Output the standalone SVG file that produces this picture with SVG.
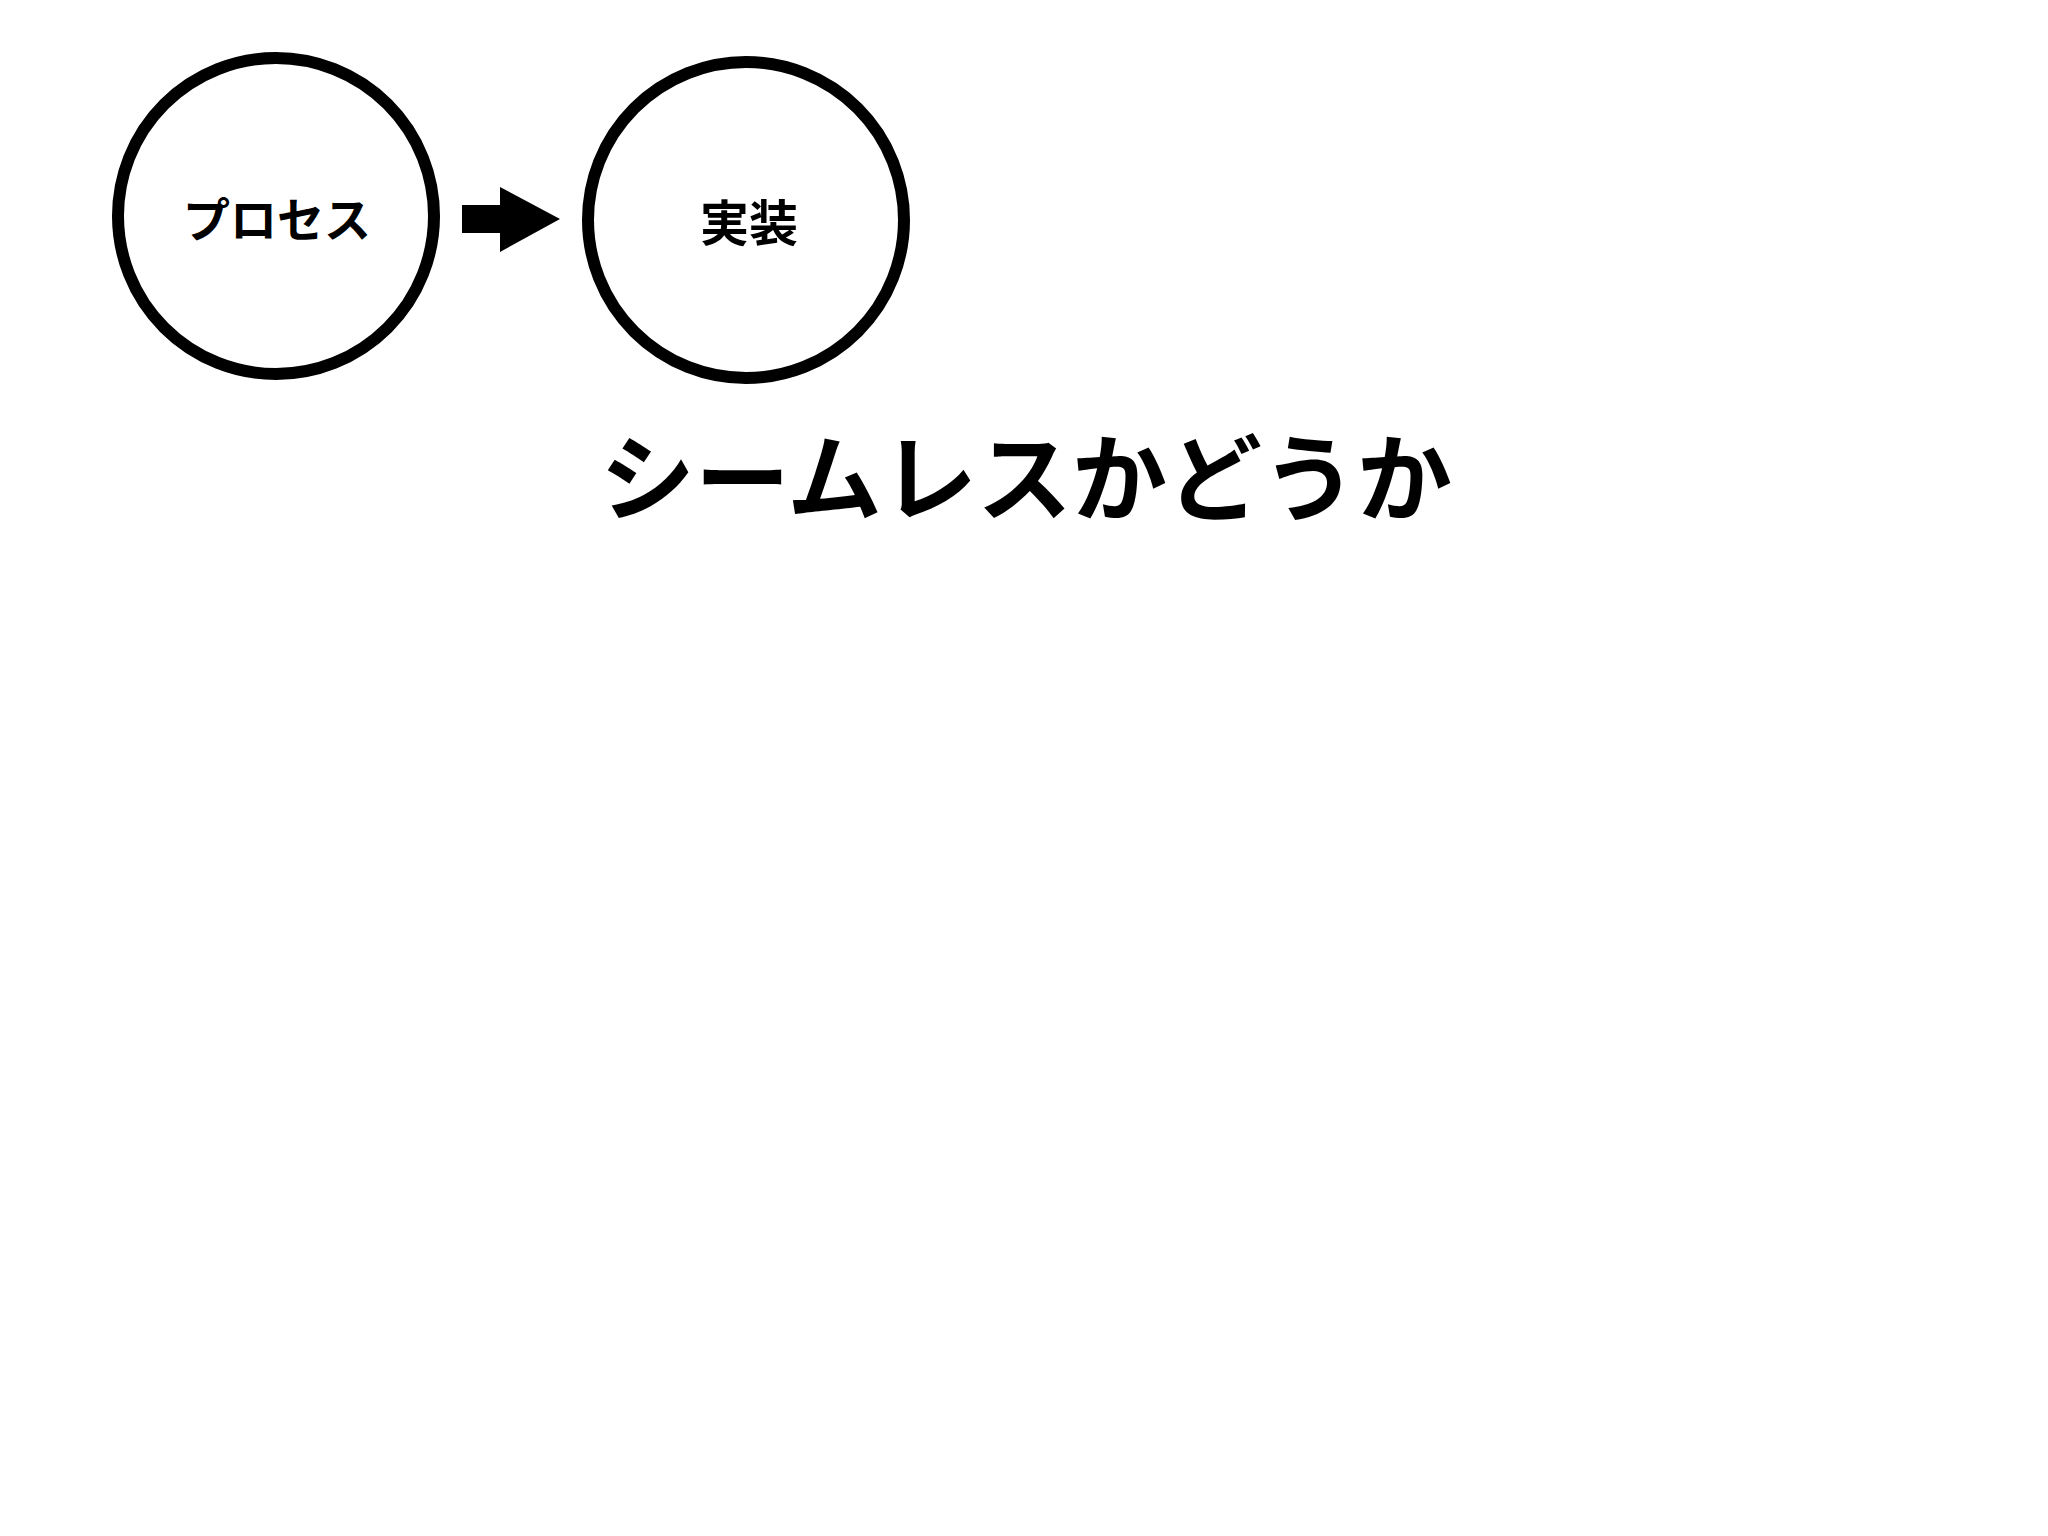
<svg xmlns="http://www.w3.org/2000/svg" width="2048" height="1536" viewBox="0 0 2048 1536">
<style>
.node{fill:#fff;stroke:#000;stroke-width:12}
.lbl{font-family:"Noto Sans CJK JP","Noto Sans",sans-serif;font-weight:bold;fill:#000;text-anchor:middle;dominant-baseline:central}
</style>
<rect width="2048" height="1536" fill="#fff"/>
<g id="node-process">
<circle class="node" cx="276" cy="216" r="158"/>
<text class="lbl" x="277" y="216" font-size="47">プロセス</text>
</g>
<g id="node-implementation">
<circle class="node" cx="746" cy="220" r="158"/>
<text class="lbl" x="749" y="219" font-size="49">実装</text>
</g>
<g id="connectors">
<polygon points="462,205 500,205 500,187 560,219 500,252 500,233 462,233" fill="#000"/>
</g>
<g id="title">
<text class="lbl" x="1026" y="472" font-size="95">シームレスかどうか</text>
</g>
</svg>
